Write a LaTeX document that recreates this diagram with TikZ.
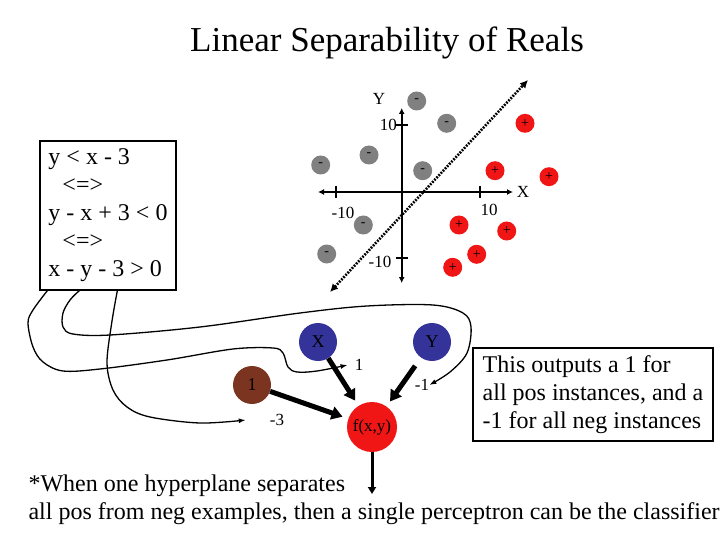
\documentclass[tikz,border=0pt]{standalone}
\usepackage{fontspec}
\setmainfont{Liberation Serif}
\usetikzlibrary{arrows.meta}
\definecolor{ptgray}{RGB}{128,128,128}
\definecolor{ptred}{RGB}{240,22,22}
\definecolor{inblue}{RGB}{51,51,153}
\definecolor{biasbrown}{RGB}{122,52,32}

\begin{document}
\begin{tikzpicture}[x=1pt, y=-1pt]
	\tikzstyle{negpt}  = [circle, minimum size=19pt, inner sep=0pt, fill=ptgray, font=\fontsize{14}{14}\selectfont]
	\tikzstyle{pospt}  = [circle, minimum size=19pt, inner sep=0pt, fill=ptred, font=\fontsize{14}{14}\selectfont]
	\tikzstyle{unit}   = [circle, minimum size=38pt, inner sep=0pt, font=\fontsize{18}{18}\selectfont]
	\tikzstyle{lbl}    = [inner sep=0pt, font=\fontsize{17}{17}\selectfont]
	\tikzstyle{big}    = [font=\fontsize{24}{28}\selectfont]
	\tikzstyle{axis}   = [line width=1.8pt]
	\tikzstyle{wire}   = [line width=1.3pt, -{Latex[length=7pt,width=5pt]}]
	\tikzstyle{weight} = [line width=5pt, shorten >=6pt, -{Triangle[length=11pt,width=13pt]}]

	\useasboundingbox (0,0) rectangle (720,540);

	\node[font=\fontsize{35}{35}\selectfont] (title) at (387,43) {Linear Separability of Reals};

	% axes of the plot
	\coordinate (xl) at (318,192);
	\coordinate (xr) at (513,192);
	\coordinate (yt) at (401.7,108);
	\coordinate (yb) at (401.7,283);
	\draw[axis, {Latex[length=6pt,width=6pt]}-{Latex[length=6pt,width=6pt]}] (xl) -- (xr);
	\draw[axis, {Latex[length=6pt,width=6pt]}-{Latex[length=6pt,width=6pt]}] (yb) -- (yt);
	\foreach \t in {335.7, 480}
		\draw[axis] (\t,186) -- (\t,198);
	\foreach \t in {125, 257.7}
		\draw[axis] (395.7,\t) -- (407.7,\t);

	\node[lbl] (ylab) at (379,99) {Y};
	\node[lbl] (xlab) at (523,192) {X};
	\node[lbl, anchor=east] (ypos) at (397,125) {10};
	\node[lbl] (yneg) at (380,262) {-10};
	\node[lbl] (xneg) at (343,213) {-10};
	\node[lbl] (xpos) at (489,210) {10};

	% separating line
	\coordinate (s1) at (330,292);
	\coordinate (s2) at (528,80);
	\draw[line width=2.6pt, dash pattern=on 1.8pt off 1.3pt, {Latex[length=8pt,width=8pt]}-{Latex[length=8pt,width=8pt]}] (s1) -- (s2);

	\foreach \name/\x/\y in {n1/416.7/101, n2/446.7/123.3, n3/369/155, n4/320.7/165, n5/422.7/170.7, n6/363.3/225, n7/326.7/254}
		\node[negpt] (\name) at (\x,\y) {-};
	\foreach \name/\x/\y in {p1/525/123.3, p2/495/170.7, p3/549/176.7, p4/459/225, p5/506.7/231, p6/476.7/254.3, p7/452.7/267.3}
		\node[pospt] (\name) at (\x,\y) {+};

	% inequalities
	\node[big, draw, line width=1.3pt, minimum width=136pt, minimum height=149pt, align=left] (eqs) at (108,215.5)
		{y < x - 3\\\hspace*{14pt}<=>\\y - x + 3 < 0\\\hspace*{14pt}<=>\\x - y - 3 > 0};

	\node[big, draw, line width=1.3pt, minimum width=240pt, minimum height=93pt, align=left] (note) at (593,394.5)
		{This outputs a 1 for\\all pos instances, and a\\-1 for all neg instances};

	% perceptron
	\node[unit, fill=inblue] (X) at (318,342) {X};
	\node[unit, fill=inblue] (Y) at (432,342) {Y};
	\node[unit, fill=biasbrown] (one) at (252,385) {1};
	\node[unit, fill=ptred, minimum size=50pt, font=\fontsize{17}{17}\selectfont] (f) at (372,427) {f(x,y)};
	\coordinate (out) at (372,494);

	\node[lbl] (wx) at (359,365) {1};
	\node[lbl] (wy) at (422,385) {-1};
	\node[lbl] (wb) at (277,420) {-3};

	\draw[weight] (X) -- (f);
	\draw[weight, shorten <=10pt] (Y) -- (f);
	\draw[weight] (one) -- (f);
	\draw[line width=3pt, -{Triangle[length=7pt,width=8pt]}] (f) -- (out);

	% coefficients to weights
	\draw[wire] plot[smooth, tension=0.55] coordinates {([xshift=8pt]eqs.south west) (33,310) (28,323) (33,347) (43,362) (63,371) (100,369) (167,360) (233,349) (273,348) (283,353) (288,367) (297,372) (317,371) ([xshift=-7pt]wx.west)};
	\draw[wire] plot[smooth, tension=0.55] coordinates {([xshift=40pt]eqs.south west) (70,300) (63,313) (63,327) (73,334) (110,335) (200,327) (300,313) (367,306) (433,305) (463,313) (471,327) (467,353) (450,372) (wy.east)};
	\draw[wire] plot[smooth, tension=0.55] coordinates {([xshift=78pt]eqs.south west) (111.7,323) (107,363) (113,390) (127,407) (150,417) (200,423) ([xshift=-24pt]wb.west)};

	\node[big, anchor=west] (foot1) at (25,486) {*When one hyperplane separates};
	\node[big, anchor=west] (foot2) at (25,514) {all pos from neg examples, then a single perceptron can be the classifier};
\end{tikzpicture}
\end{document}
